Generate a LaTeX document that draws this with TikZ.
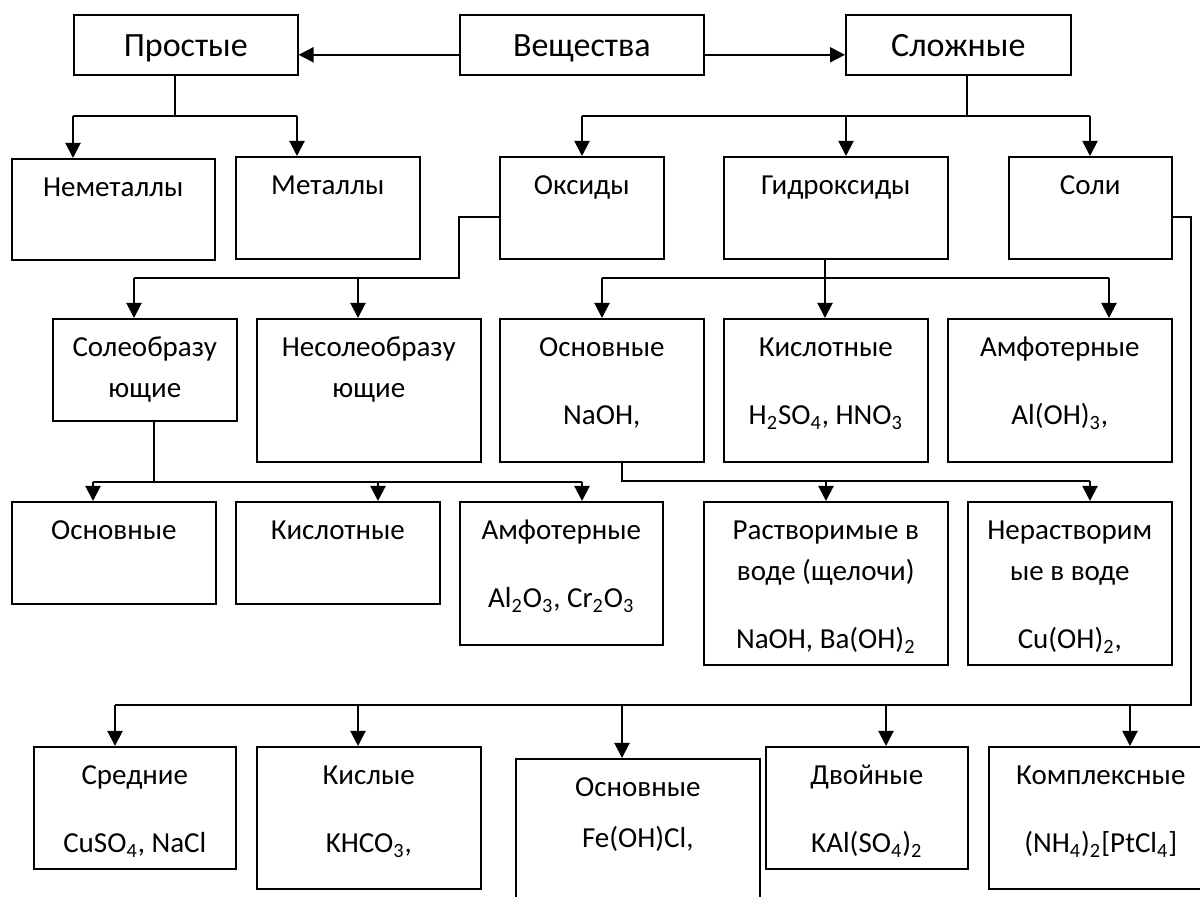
\documentclass[tikz,border=0pt]{standalone}
\usepackage{fontspec}
\setmainfont{Carlito}
\usetikzlibrary{arrows.meta}
\newlength{\pxu}\setlength{\pxu}{0.5pt}
\newcommand{\cell}[3]{\parbox[c][#2\pxu][t]{#1\pxu}{\centering\rule{0pt}{19pt}#3}}
\newcommand{\gap}{\\[13.5pt]}
\begin{document}
\begin{tikzpicture}[x=0.5pt, y=-0.5pt,
  head/.style={draw, line width=0.8pt, inner sep=0pt, anchor=north west, minimum height=30pt, text height=12pt, text depth=0pt, font=\fontsize{17}{20}\selectfont},
  cls/.style={draw, line width=0.8pt, inner sep=0pt, anchor=north west, font=\fontsize{14.5}{20.5}\selectfont},
  link/.style={line width=0.7pt},
  arr/.style={line width=1pt, -{Triangle[length=7.5pt, width=7.5pt]}}]
  \useasboundingbox (0,0) rectangle (1200,897);
  \clip (0,0) rectangle (1200,897);
  \node[head, minimum width=112pt] (prost) at (73,14) {Простые};
  \node[head, minimum width=122pt] (ves) at (459,14) {Вещества};
  \node[head, minimum width=112.5pt] (slozh) at (845,14) {Сложные};
  \node[cls] (nemet) at (11,158) {\cell{203}{101}{Неметаллы}};
  \node[cls] (metal) at (235,156) {\cell{184}{102}{Металлы}};
  \node[cls] (oksid) at (499,156) {\cell{164}{102}{Оксиды}};
  \node[cls] (gidr) at (723,156) {\cell{224}{102}{Гидроксиды}};
  \node[cls] (soli) at (1008,156) {\cell{163}{102}{Соли}};
  \node[cls] (soleo) at (52,318) {\cell{184}{102}{Солеобразу\\ющие}};
  \node[cls] (nesol) at (256,318) {\cell{224}{143}{Несолеобразу\\ющие}};
  \node[cls] (osnG) at (499,318) {\cell{204}{143}{Основные\gap NaOH,}};
  \node[cls] (kislG) at (723,318) {\cell{204}{143}{Кислотные\gap H\textsubscript{2}SO\textsubscript{4}, HNO\textsubscript{3}}};
  \node[cls] (amfG) at (947,318) {\cell{224}{143}{Амфотерные\gap Al(OH)\textsubscript{3},}};
  \node[cls] (osnO) at (11,501) {\cell{204}{102}{Основные}};
  \node[cls] (kislO) at (235,501) {\cell{204}{102}{Кислотные}};
  \node[cls] (amfO) at (459,501) {\cell{203}{143}{Амфотерные\gap Al\textsubscript{2}O\textsubscript{3}, Cr\textsubscript{2}O\textsubscript{3}}};
  \node[cls] (rastv) at (703,501) {\cell{244}{163}{Растворимые в\\воде (щелочи)\gap NaOH, Ba(OH)\textsubscript{2}}};
  \node[cls] (neras) at (967,501) {\cell{204}{163}{Нерастворим\\ые в воде\gap Cu(OH)\textsubscript{2},}};
  \node[cls] (sred) at (33,746) {\cell{202}{122}{Средние\gap CuSO\textsubscript{4}, NaCl}};
  \node[cls] (kisly) at (256,746) {\cell{224}{142}{Кислые\gap KHCO\textsubscript{3},}};
  \node[cls] (osnS) at (515,758) {\cell{244}{160}{Основные\\[5pt]Fe(OH)Cl,}};
  \node[cls] (dvoin) at (765,746) {\cell{202}{122}{Двойные\gap KAl(SO\textsubscript{4})\textsubscript{2}}};
  \node[cls] (kompl) at (988,746) {\cell{224}{142}{Комплексные\gap (NH\textsubscript{4})\textsubscript{2}[PtCl\textsubscript{4}]}};
  \draw[arr] ([yshift=-5pt]ves.west) -- ([yshift=-5pt]prost.east);
  \draw[arr] ([yshift=-5pt]ves.east) -- ([yshift=-5pt]slozh.west);
  \coordinate (pt) at (175,116);
  \coordinate (p1) at (73,116);
  \coordinate (p2) at (297,116);
  \draw[link] (prost.south -| pt) -- (pt);
  \draw[link] (p1) -- (p2);
  \draw[arr] (p1) -- (p1 |- nemet.north);
  \draw[arr] (p2) -- (p2 |- metal.north);
  \coordinate (st) at (967,116);
  \coordinate (s1) at (582,116);
  \coordinate (s2) at (846,116);
  \coordinate (s3) at (1090,116);
  \draw[link] (slozh.south -| st) -- (st);
  \draw[link] (s1) -- (s3);
  \draw[arr] (s1) -- (s1 |- oksid.north);
  \draw[arr] (s2) -- (s2 |- gidr.north);
  \draw[arr] (s3) -- (s3 |- soli.north);
  \coordinate (ok) at (459,217);
  \coordinate (o1) at (134,278);
  \coordinate (o2) at (358,278);
  \draw[link] (ok -| oksid.west) -- (ok) |- (o1);
  \draw[arr] (o1) -- (o1 |- soleo.north);
  \draw[arr] (o2) -- (o2 |- nesol.north);
  \coordinate (g1) at (602,278);
  \coordinate (g2) at (825,278);
  \coordinate (g3) at (1109,278);
  \draw[link] (gidr.south -| g2) -- (g2);
  \draw[link] (g1) -- (g3);
  \draw[arr] (g1) -- (g1 |- osnG.north);
  \draw[arr] (g2) -- (g2 |- kislG.north);
  \draw[arr] (g3) -- (g3 |- amfG.north);
  \coordinate (sk) at (1191,217);
  \coordinate (b1) at (115,705);
  \coordinate (b2) at (358,705);
  \coordinate (b3) at (622,705);
  \coordinate (b4) at (886,705);
  \coordinate (b5) at (1130,705);
  \draw[link] (sk -| soli.east) -- (sk) |- (b1);
  \draw[arr] (b1) -- (b1 |- sred.north);
  \draw[arr] (b2) -- (b2 |- kisly.north);
  \draw[arr] (b3) -- (b3 |- osnS.north);
  \draw[arr] (b4) -- (b4 |- dvoin.north);
  \draw[arr] (b5) -- (b5 |- kompl.north);
  \coordinate (ct) at (154,482);
  \coordinate (c1) at (93,482);
  \coordinate (c2) at (378,482);
  \coordinate (c3) at (582,482);
  \draw[link] (soleo.south -| ct) -- (ct);
  \draw[link] (c1) -- (c3);
  \draw[arr] (c1) -- (c1 |- osnO.north);
  \draw[arr] (c2) -- (c2 |- kislO.north);
  \draw[arr] (c3) -- (c3 |- amfO.north);
  \coordinate (ht) at (622,481);
  \coordinate (h1) at (826,481);
  \coordinate (h2) at (1090,481);
  \draw[link] (osnG.south -| ht) -- (ht) -- (h2);
  \draw[arr] (h1) -- (h1 |- rastv.north);
  \draw[arr] (h2) -- (h2 |- neras.north);
\end{tikzpicture}
\end{document}
